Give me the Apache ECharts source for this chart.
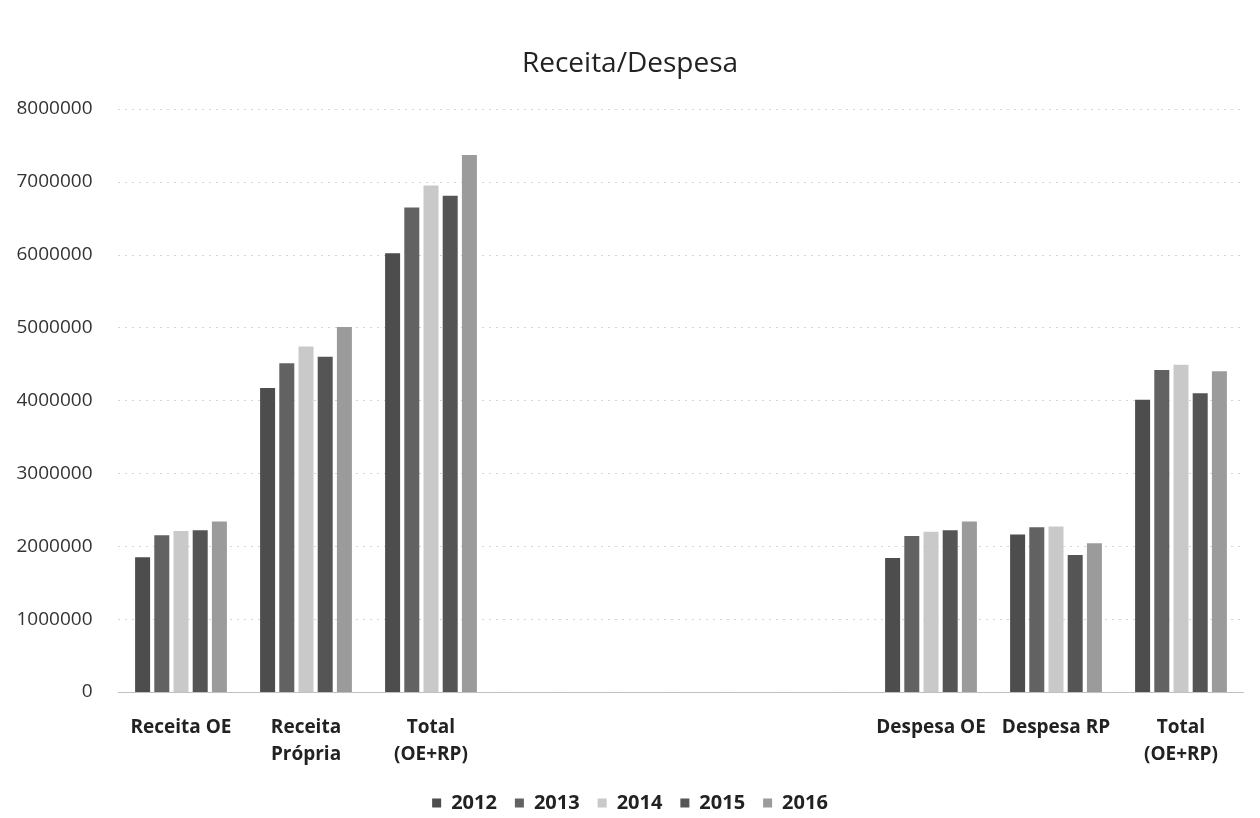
<!DOCTYPE html>
<html>
<head>
<meta charset="utf-8">
<script src="https://cdn.jsdelivr.net/npm/echarts@6/dist/echarts.min.js"></script>
<style>html,body{margin:0;padding:0;background:#fff}#c{width:1260px;height:818px}</style>
</head>
<body>
<div id="c"></div>
<script>
const categories = ['Receita OE', 'Receita\nPrópria', 'Total\n(OE+RP)', '', '', '', 'Despesa OE', 'Despesa RP', 'Total\n(OE+RP)'];
const years = ['2012', '2013', '2014', '2015', '2016'];
const v2012 = [1850000, 4170000, 6020000, null, null, null, 1840000, 2160000, 4010000];
const v2013 = [2150000, 4510000, 6650000, null, null, null, 2140000, 2260000, 4420000];
const v2014 = [2210000, 4740000, 6950000, null, null, null, 2200000, 2270000, 4490000];
const v2015 = [2220000, 4600000, 6810000, null, null, null, 2220000, 1880000, 4100000];
const v2016 = [2340000, 5010000, 7370000, null, null, null, 2340000, 2040000, 4400000];
const seriesValues = [v2012, v2013, v2014, v2015, v2016];
const yTicks = [0, 1000000, 2000000, 3000000, 4000000, 5000000, 6000000, 7000000, 8000000];
const colors = ['#4d4d4d', '#626262', '#c9c9c9', '#555555', '#9b9b9b'];

const font = '"Open Sans", "Noto Sans", sans-serif';
const chart = echarts.init(document.getElementById('c'));
chart.setOption({
  animation: false,
  title: {
    text: 'Receita/Despesa', left: 'center', top: 45,
    textStyle: { fontFamily: font, fontSize: 28, fontWeight: 'normal', color: '#222' }
  },
  legend: {
    data: years, bottom: 0, left: 'center', itemWidth: 9, itemHeight: 9, itemGap: 18,
    icon: 'rect',
    textStyle: { fontFamily: font, fontSize: 20, fontWeight: 'bold', color: '#222', padding: [0, 0, 0, 5] }
  },
  grid: { left: 118.5, right: 16.5, top: 109, bottom: 126 },
  xAxis: {
    type: 'category', data: categories,
    axisLine: { show: true, lineStyle: { color: '#bbb', type: 'dotted' } },
    axisTick: { show: false },
    axisLabel: { interval: 0, fontFamily: font, fontSize: 19, fontWeight: 'bold', color: '#222', margin: 22, lineHeight: 27 }
  },
  yAxis: {
    type: 'value', min: yTicks[0], max: yTicks[yTicks.length - 1], interval: yTicks[1] - yTicks[0],
    axisLine: { show: false }, axisTick: { show: false },
    splitLine: { lineStyle: { color: '#aaa', type: [1, 6] } },
    axisLabel: { fontFamily: font, fontSize: 19, color: '#333', margin: 26, formatter: v => String(v) }
  },
  series: years.map((y, i) => ({
    name: y, type: 'bar', data: seriesValues[i], barWidth: 15, barGap: '28%',
    itemStyle: { color: colors[i] }
  }))
});
</script>
</body>
</html>
